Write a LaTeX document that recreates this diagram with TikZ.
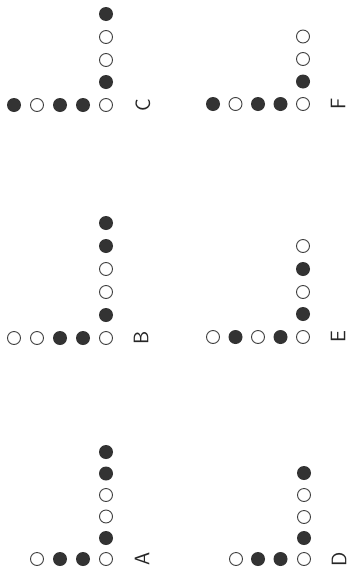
\documentclass[tikz,border=0pt]{standalone}
\begin{document}
\begin{tikzpicture}[x=1pt,y=-1pt,
  dotf/.style={circle,fill=black!80,minimum size=14pt,inner sep=0pt},
  doto/.style={circle,draw=black!75,line width=0.9pt,minimum size=13pt,inner sep=0pt},
  lab/.style={font=\sffamily\fontsize{21}{21}\selectfont,rotate=90,inner sep=0pt,text=black!85}]
\useasboundingbox[fill=white] (0,0) rectangle (351,576);
% panel C
\foreach \x/\s [count=\i] in {14/dotf,37/doto,60/dotf,83/dotf,106/doto}
  \node[\s] (c-r\i) at (\x,105) {};
\foreach \y/\s [count=\i] in {14/dotf,37/doto,60/doto,82/dotf}
  \node[\s] (c-c\i) at (106,\y) {};
\node[lab] (labC) at (143,105) {C};
% panel F
\foreach \x/\s [count=\i] in {213/dotf,235.5/doto,258/dotf,280.5/dotf,303/doto}
  \node[\s] (f-r\i) at (\x,104) {};
\foreach \y/\s [count=\i] in {36.5/doto,59/doto,81.5/dotf}
  \node[\s] (f-c\i) at (303,\y) {};
\node[lab] (labF) at (338,104) {F};
% panel B
\foreach \x/\s [count=\i] in {14/doto,37/doto,60/dotf,83/dotf,106/doto}
  \node[\s] (b-r\i) at (\x,338) {};
\foreach \y/\s [count=\i] in {223/dotf,246/dotf,269/doto,292/doto,315/dotf}
  \node[\s] (b-c\i) at (106,\y) {};
\node[lab] (labB) at (141,338) {B};
% panel E
\foreach \x/\s [count=\i] in {213/doto,235.5/dotf,258/doto,280.5/dotf,303/doto}
  \node[\s] (e-r\i) at (\x,337) {};
\foreach \y/\s [count=\i] in {246/doto,269/dotf,292/doto,314/dotf}
  \node[\s] (e-c\i) at (303,\y) {};
\node[lab] (labE) at (338,337) {E};
% panel A
\foreach \x/\s [count=\i] in {37/doto,60/dotf,83/dotf,106/doto}
  \node[\s] (a-r\i) at (\x,559) {};
\foreach \y/\s [count=\i] in {452/dotf,473.5/dotf,495/doto,516.5/doto,538/dotf}
  \node[\s] (a-c\i) at (106,\y) {};
\node[lab] (labA) at (142,559) {A};
% panel D
\foreach \x/\s [count=\i] in {236/doto,258/dotf,280.5/dotf,304/doto}
  \node[\s] (d-r\i) at (\x,559) {};
\foreach \y/\s [count=\i] in {473/dotf,495/doto,517/doto,538/dotf}
  \node[\s] (d-c\i) at (304,\y) {};
\node[lab] (labD) at (339,559) {D};
\end{tikzpicture}
\end{document}
